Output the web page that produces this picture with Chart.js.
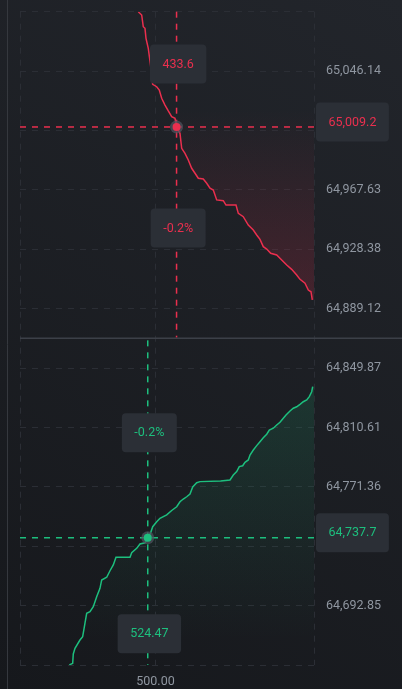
<!DOCTYPE html>
<html>
<head>
<meta charset="utf-8">
<script src="https://cdn.jsdelivr.net/npm/chart.js@4.4.1/dist/chart.umd.min.js"></script>
<style>
  html, body { margin: 0; padding: 0; background: #1b1d22; }
  canvas { display: block; }
</style>
</head>
<body>
<canvas id="depth" width="402" height="689"></canvas>
<script>
// asks (top panel): cumulative amount vs price
const askAmounts = [554.3, 543.6, 538.6, 533.2, 530.0, 522.8, 515.8, 508.9, 496.3, 488.1, 480.5, 470.1, 459.7, 449.0, 438.5, 433.6, 422.8, 417.4, 407.0, 396.6, 385.9, 375.4, 365.0, 349.3, 338.5, 328.1, 317.7, 307.0, 286.2, 277.6, 246.1, 238.8, 223.1, 207.3, 191.5, 180.8, 170.4, 160.0, 149.2, 136.6, 117.7, 101.9, 86.1, 70.4, 54.6, 44.2, 28.4, 18.0, 9.5, 5.4];
const askPrices = [65085.39, 65083.2, 65075.5, 65074.4, 65067.8, 65061.2, 65050.2, 65037.4, 65035.8, 65033.6, 65028.2, 65023.7, 65019.8, 65016.0, 65014.9, 65009.2, 65005.0, 64995.1, 64991.8, 64987.4, 64981.9, 64978.6, 64975.3, 64974.8, 64972.0, 64968.7, 64967.5, 64961.0, 64960.5, 64957.6, 64957.6, 64952.1, 64949.9, 64944.4, 64941.1, 64937.8, 64934.9, 64930.1, 64928.5, 64925.7, 64924.6, 64921.3, 64918.0, 64915.1, 64911.4, 64908.5, 64905.9, 64901.4, 64900.3, 64894.9];

// bids (bottom panel)
const bidAmounts = [4.1, 7.3, 14.8, 23.0, 33.8, 44.2, 54.6, 65.3, 75.7, 88.3, 96.9, 107.3, 117.7, 128.4, 141.0, 149.2, 160.0, 170.4, 180.8, 191.5, 201.9, 207.3, 217.7, 225.0, 235.7, 243.9, 254.6, 265.0, 294.4, 359.7, 370.1, 382.7, 391.2, 401.6, 412.4, 422.8, 433.2, 449.0, 464.7, 485.9, 496.3, 508.9, 515.2, 524.47, 533.2, 549.0, 559.4, 575.2, 580.5, 624.7, 633.2, 643.6, 654.0, 669.8, 675.2, 685.6, 696.3, 706.7, 717.1, 722.5, 729.8, 738.3, 754.0, 759.4, 761.3, 772.0];
const bidPrices = [64837.6, 64834.2, 64831.0, 64828.8, 64827.6, 64825.9, 64824.3, 64823.3, 64821.5, 64818.9, 64816.7, 64814.0, 64812.2, 64810.1, 64808.9, 64806.1, 64803.8, 64801.2, 64798.6, 64795.7, 64792.4, 64789.1, 64787.6, 64785.3, 64784.7, 64781.4, 64779.2, 64775.9, 64775.2, 64774.8, 64774.1, 64771.3, 64766.6, 64764.8, 64763.3, 64761.5, 64758.2, 64755.7, 64752.8, 64750.6, 64748.3, 64745.0, 64741.1, 64737.7, 64734.4, 64733.6, 64730.7, 64727.8, 64724.8, 64724.8, 64719.7, 64715.9, 64711.6, 64709.8, 64704.3, 64698.7, 64692.1, 64688.8, 64687.8, 64681.2, 64672.3, 64670.1, 64664.6, 64660.9, 64654.7, 64653.6];

const priceTicks = [64653.6, 64692.85, 64732.10, 64771.36, 64810.61, 64849.87, 64889.12, 64928.38, 64967.63, 65006.88, 65046.14, 65085.39];
const amountTicks = [0, 500, 927.5];
const amountTickLabels = ['', '500.00', ''];
const midPrice = 64869.5;

// hovered levels shown with crosshairs
const askHover = { amount: 433.6, price: 65009.2, amountText: '433.6', priceText: '65,009.2', pctText: '-0.2%' };
const bidHover = { amount: 524.47, price: 64737.7, amountText: '524.47', priceText: '64,737.7', pctText: '-0.2%' };

const RED = '#ea2f4e';
const GREEN = '#1dbf7e';
const GRID = '#2b2e35';
const TEXT = '#8f96a0';
const BADGE = '#2b2f36';

Chart.defaults.font.family = 'Roboto';
Chart.defaults.font.size = 12.5;

function fmt(v) {
  return v.toLocaleString('en-US', { minimumFractionDigits: 2, maximumFractionDigits: 2 });
}

function toPoints(xs, ys) {
  return xs.map((x, i) => ({ x: x, y: ys[i] }));
}

function badge(ctx, text, cx, cy, color, left) {
  ctx.font = '12.5px Roboto';
  const w = ctx.measureText(text).width + 25;
  const h = 39;
  const x = left !== undefined ? left : cx - w / 2;
  ctx.fillStyle = BADGE;
  ctx.beginPath();
  ctx.roundRect(x, cy - h / 2, w, h, 4);
  ctx.fill();
  ctx.fillStyle = color;
  ctx.textAlign = 'center';
  ctx.textBaseline = 'middle';
  ctx.fillText(text, x + w / 2, cy + 0.5);
}

function dashed(ctx, x1, y1, x2, y2, color) {
  ctx.strokeStyle = color;
  ctx.lineWidth = 1.5;
  ctx.setLineDash([6, 6]);
  ctx.beginPath();
  ctx.moveTo(x1, y1);
  ctx.lineTo(x2, y2);
  ctx.stroke();
  ctx.setLineDash([]);
}

function dot(ctx, x, y, color) {
  ctx.fillStyle = 'rgba(78,83,93,0.75)';
  ctx.beginPath();
  ctx.arc(x, y, 6.5, 0, Math.PI * 2);
  ctx.fill();
  ctx.fillStyle = color;
  ctx.beginPath();
  ctx.arc(x, y, 4, 0, Math.PI * 2);
  ctx.fill();
}

const decor = {
  id: 'decor',
  beforeDraw(chart) {
    const { ctx, width, height } = chart;
    const g = ctx.createLinearGradient(width, 0, 0, height);
    g.addColorStop(0, '#22252b');
    g.addColorStop(1, '#16181c');
    ctx.save();
    ctx.fillStyle = g;
    ctx.fillRect(0, 0, width, height);
    ctx.strokeStyle = '#35383e';
    ctx.lineWidth = 1;
    ctx.beginPath();
    ctx.moveTo(7.5, 0);
    ctx.lineTo(7.5, height);
    ctx.stroke();
    ctx.restore();
  },
  afterDatasetsDraw(chart) {
    const { ctx, chartArea: a, width } = chart;
    const xs = chart.scales.x, ys = chart.scales.y;
    const sepY = ys.getPixelForValue(midPrice);
    ctx.save();
    // panel separator
    ctx.strokeStyle = '#3c4048';
    ctx.lineWidth = 1.5;
    ctx.beginPath();
    ctx.moveTo(a.left, sepY);
    ctx.lineTo(width, sepY);
    ctx.stroke();

    // ask crosshair
    let x = xs.getPixelForValue(askHover.amount);
    let y = ys.getPixelForValue(askHover.price);
    dashed(ctx, x, a.top, x, sepY - 1, RED);
    dashed(ctx, a.left, y, a.right, y, RED);
    dot(ctx, x, y, RED);
    badge(ctx, askHover.amountText, x + 1.6, y - 63, RED);
    badge(ctx, askHover.pctText, x + 1.6, y + 101, RED);
    badge(ctx, askHover.priceText, 0, y - 5, RED, a.right + 2);

    // bid crosshair
    x = xs.getPixelForValue(bidHover.amount);
    y = ys.getPixelForValue(bidHover.price);
    dashed(ctx, x, sepY + 2, x, a.bottom, GREEN);
    dashed(ctx, a.left, y, a.right, y, GREEN);
    dot(ctx, x, y, GREEN);
    badge(ctx, bidHover.pctText, x + 1.6, y - 105, GREEN);
    badge(ctx, bidHover.amountText, x + 1.6, y + 96, GREEN);
    badge(ctx, bidHover.priceText, 0, y - 5, GREEN, a.right + 2);
    ctx.restore();
  }
};

function askFill(context) {
  const c = context.chart;
  if (!c.chartArea) return 'rgba(234,47,78,0.12)';
  const g = c.ctx.createLinearGradient(0, 110, 0, 305);
  g.addColorStop(0, 'rgba(234,47,78,0)');
  g.addColorStop(1, 'rgba(234,47,78,0.2)');
  return g;
}

function bidFill(context) {
  const c = context.chart;
  if (!c.chartArea) return 'rgba(29,191,126,0.1)';
  const g = c.ctx.createLinearGradient(0, 385, 0, 640);
  g.addColorStop(0, 'rgba(29,191,126,0.15)');
  g.addColorStop(1, 'rgba(29,191,126,0)');
  return g;
}

function noEdgePadding(s) {
  s.paddingTop = 0;
  s.paddingBottom = 0;
  s.paddingLeft = 0;
  s.paddingRight = 0;
}

new Chart(document.getElementById('depth'), {
  type: 'line',
  data: {
    datasets: [
      {
        label: 'Asks',
        data: toPoints(askAmounts, askPrices),
        borderColor: RED,
        borderWidth: 1.5,
        backgroundColor: askFill,
        fill: 'origin',
        pointRadius: 0,
        tension: 0
      },
      {
        label: 'Bids',
        data: toPoints(bidAmounts, bidPrices),
        borderColor: GREEN,
        borderWidth: 1.5,
        backgroundColor: bidFill,
        fill: 'origin',
        pointRadius: 0,
        tension: 0
      }
    ]
  },
  options: {
    indexAxis: 'y',
    responsive: false,
    animation: false,
    devicePixelRatio: 1,
    layout: { padding: { left: 20, top: 11.7, right: 0, bottom: 0 } },
    plugins: { legend: { display: false }, tooltip: { enabled: false } },
    scales: {
      x: {
        type: 'linear',
        reverse: true,
        min: 0,
        max: 927.5,
        afterBuildTicks: s => { s.ticks = amountTicks.map(v => ({ value: v })); },
        afterFit: s => { s.height = 24; noEdgePadding(s); },
        grid: { color: GRID, lineWidth: 1, drawTicks: false },
        border: { display: false, dash: [6, 6] },
        ticks: {
          color: TEXT,
          padding: 9,
          maxRotation: 0,
          autoSkip: false,
          callback: (v, i) => amountTickLabels[i]
        }
      },
      y: {
        type: 'linear',
        position: 'right',
        min: priceTicks[0],
        max: priceTicks[priceTicks.length - 1],
        afterBuildTicks: s => { s.ticks = priceTicks.map(v => ({ value: v })); },
        afterFit: s => { s.width = 88; noEdgePadding(s); },
        grid: { color: GRID, lineWidth: 1, drawTicks: false },
        border: { display: false, dash: [6, 6] },
        ticks: {
          color: TEXT,
          padding: 12,
          autoSkip: false,
          callback: (v, i) => (i === 0 || i === priceTicks.length - 1) ? '' : fmt(v)
        }
      }
    }
  },
  plugins: [decor]
});
</script>
</body>
</html>
